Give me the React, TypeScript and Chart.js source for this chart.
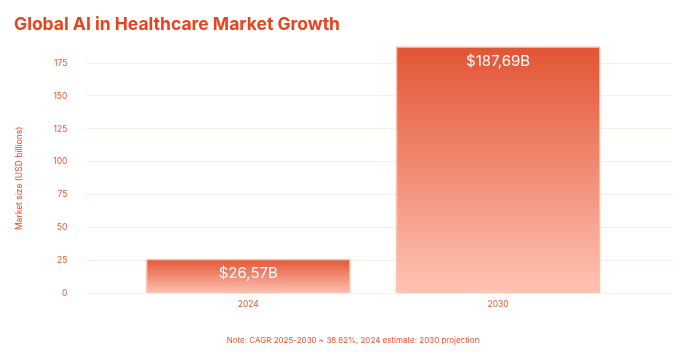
import React, { useEffect, useRef } from "react";
import { Chart, registerables } from "chart.js";

Chart.register(...registerables);

const categories = ["2024", "2030"];
const marketSize = [26.57, 187.69];
const valueLabels = ["$26,57B", "$187,69B"];
const yTicks = [0, 25, 50, 75, 100, 125, 150, 175];

const TITLE = "Global AI in Healthcare Market Growth";
const NOTE = "Note: CAGR 2025-2030 ~ 38.62%, 2024 estimate: 2030 projection";
const Y_TITLE = "Market size (USD billions)";

const ORANGE = "#E8431E";
const TICK = "#E8532E";

const barLabelPlugin = {
  id: "barLabels",
  afterDatasetsDraw(chart: any) {
    const meta = chart.getDatasetMeta(0);
    const ctx = chart.ctx;
    ctx.save();
    ctx.fillStyle = "#FFFFFF";
    ctx.font = "400 15px Inter, 'DejaVu Sans', sans-serif";
    ctx.textAlign = "center";
    ctx.textBaseline = "middle";
    meta.data.forEach((el: any, i: number) => {
      ctx.fillText(valueLabels[i], el.x, el.y + 15);
    });
    ctx.restore();
  },
};

const notePlugin = {
  id: "note",
  afterDraw(chart: any) {
    const ctx = chart.ctx;
    ctx.save();
    ctx.fillStyle = TICK;
    ctx.font = "400 8px Inter, 'DejaVu Sans', sans-serif";
    ctx.textAlign = "center";
    ctx.textBaseline = "middle";
    ctx.fillText(NOTE, 353, 341);
    ctx.restore();
  },
};

export default function App() {
  const ref = useRef<HTMLCanvasElement | null>(null);
  useEffect(() => {
    if (!ref.current) return;
    const chart = new Chart(ref.current, {
      type: "bar",
      data: {
        datasets: [
          {
            data: categories.map((c, i) => ({ x: i, y: marketSize[i] })),
            backgroundColor: (c: any) => {
              const ch = c.chart;
              const area = ch.chartArea;
              if (!area || !c.raw) return "#EE8A70";
              const ys = ch.scales.y;
              const top = ys.getPixelForValue(c.raw.y);
              const bottom = ys.getPixelForValue(0);
              const g = ch.ctx.createLinearGradient(0, top, 0, bottom);
              g.addColorStop(0, "#E25433");
              g.addColorStop(1, "#FFC4B4");
              return g;
            },
            borderColor: "rgba(250,185,165,0.9)",
            borderWidth: 1.5,
            borderSkipped: "bottom",
            barPercentage: 0.82,
            categoryPercentage: 1,
            clip: false as any,
          },
        ],
      },
      options: {
        animation: false,
        responsive: true,
        maintainAspectRatio: false,
        layout: { padding: { left: 14, right: 28, top: 0, bottom: 42 } },
        plugins: {
          legend: { display: false },
          tooltip: { enabled: false },
          title: {
            display: true,
            text: TITLE,
            align: "start",
            color: ORANGE,
            font: { family: "Inter", size: 17.5, weight: "bold" },
            padding: { top: 14, bottom: 28 },
          },
        },
        scales: {
          x: {
            type: "linear",
            offset: false,
            min: -0.652,
            max: 1.696,
            afterBuildTicks: (s: any) => {
              s.ticks = categories.map((_, i) => ({ value: i }));
            },
            ticks: {
              color: TICK,
              font: { family: "Inter", size: 8.5 },
              padding: 6,
              callback: (v: any) => categories[v] ?? "",
            },
            grid: { display: false, drawTicks: false },
            border: { display: false },
          },
          y: {
            min: 0,
            max: 175,
            afterBuildTicks: (s: any) => {
              s.ticks = yTicks.map((v) => ({ value: v }));
            },
            ticks: {
              color: TICK,
              font: { family: "Inter", size: 8.5 },
              padding: 18,
            },
            grid: { color: "#FDEEEA", drawTicks: false },
            border: { display: false },
            title: {
              display: true,
              text: Y_TITLE,
              color: ORANGE,
              font: { family: "Inter", size: 8.5 },
              padding: { top: 0, bottom: 11 },
            },
          },
        },
      } as any,
      plugins: [barLabelPlugin, notePlugin],
    });
    return () => chart.destroy();
  }, []);
  return (
    <div style={{ position: "fixed", left: 0, top: 0, width: 700, height: 358, background: "#fff" }}>
      <canvas ref={ref} />
    </div>
  );
}
